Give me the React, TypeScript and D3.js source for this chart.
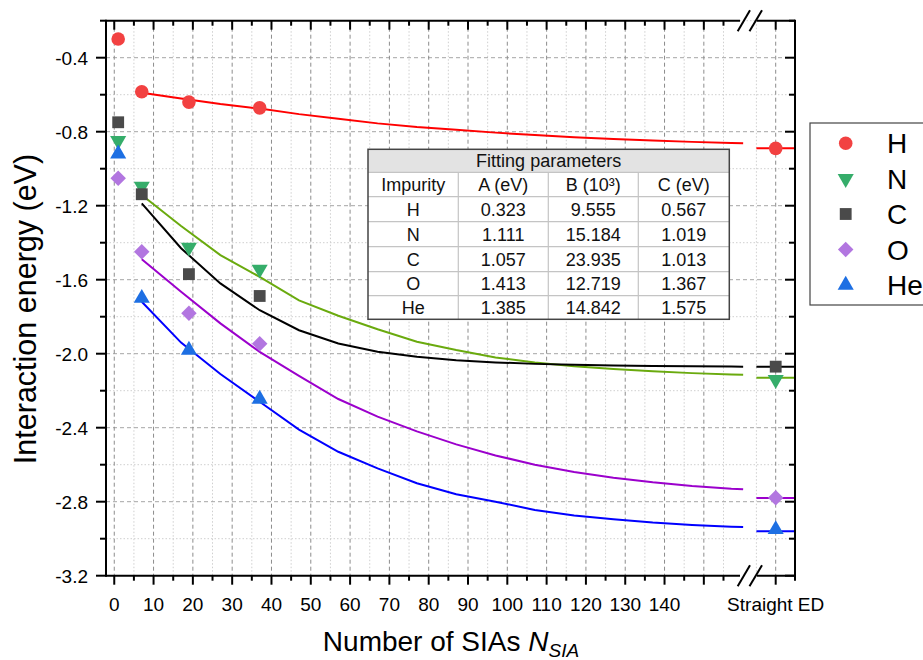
import * as d3 from "d3";

// cluster sizes with DFT points
const N_SIA = [1, 7, 19, 37];

const H_PTS = [-0.299, -0.584, -0.64, -0.671];
const N_PTS = [-0.849, -1.095, -1.425, -1.544];
const C_PTS = [-0.749, -1.138, -1.57, -1.688];
const O_PTS = [-1.052, -1.449, -1.782, -1.946];
const HE_PTS = [-0.92, -1.7, -1.98, -2.245];

// straight edge dislocation values
const ED_PTS = [-0.89, -2.14, -2.07, -2.778, -2.95];
const ED_FIT = [-0.89, -2.13, -2.07, -2.78, -2.96];

// fitted curves
const FIT_N = [7, 17, 27, 37, 47, 57, 67, 77, 87, 97, 107, 117, 127, 137, 147, 157, 160];
const H_FIT = [-0.589, -0.62, -0.65, -0.675, -0.705, -0.73, -0.755, -0.775, -0.79, -0.805, -0.818, -0.83, -0.84, -0.848, -0.855, -0.861, -0.863];
const N_FIT = [-1.142, -1.31, -1.467, -1.585, -1.712, -1.795, -1.868, -1.935, -1.98, -2.02, -2.048, -2.068, -2.083, -2.095, -2.105, -2.112, -2.114];
const C_FIT = [-1.187, -1.43, -1.62, -1.765, -1.873, -1.945, -1.99, -2.017, -2.035, -2.047, -2.055, -2.06, -2.064, -2.066, -2.068, -2.069, -2.07];
const O_FIT = [-1.49, -1.665, -1.836, -1.99, -2.12, -2.245, -2.34, -2.42, -2.49, -2.55, -2.6, -2.64, -2.67, -2.695, -2.715, -2.73, -2.733];
const HE_FIT = [-1.719, -1.94, -2.11, -2.26, -2.41, -2.53, -2.62, -2.7, -2.76, -2.8, -2.845, -2.875, -2.895, -2.913, -2.926, -2.935, -2.937];

const NAMES = ["H", "N", "C", "O", "He"];
const MARKER_COLORS = ["#f24141", "#35ad6a", "#4a4a4a", "#b276e0", "#1d6fe3"];
const LINE_COLORS = ["#ff0000", "#6aaa0e", "#000000", "#9b00cc", "#0000ff"];
const SHAPES = ["circle", "tridown", "square", "diamond", "triup"];

const X_TICKS = [0, 10, 20, 30, 40, 50, 60, 70, 80, 90, 100, 110, 120, 130, 140, 150];
const X_LABELS = ["0", "10", "20", "30", "40", "50", "60", "70", "80", "90", "100", "110", "120", "130", "140", ""];
const Y_TICKS = [-0.4, -0.8, -1.2, -1.6, -2.0, -2.4, -2.8, -3.2];

const TABLE_TITLE = "Fitting parameters";
const TABLE_HEAD = ["Impurity", "A (eV)", "B (10³)", "C (eV)"];
const TABLE_A = ["0.323", "1.111", "1.057", "1.413", "1.385"];
const TABLE_B = ["9.555", "15.184", "23.935", "12.719", "14.842"];
const TABLE_C = ["0.567", "1.019", "1.013", "1.367", "1.575"];

const FONT = "'Liberation Sans', Arial, sans-serif";

const W = 923;
const H = 660;
const L = 106, R = 795, T = 20.7, B = 575.7;
const BREAK_L = 740, BREAK_R = 757;

const x = d3.scaleLinear().domain([-2.1, 159.2]).range([L, BREAK_L]);
const xb = d3.scaleLinear().domain([-1, 1]).range([756.4, R]);
const y = d3.scaleLinear().domain([-3.2, -0.2]).range([B, T]);

function markerPath(shape: string) {
  if (shape === "circle") return d3.symbol(d3.symbolCircle, 145)()!;
  if (shape === "square") return d3.symbol(d3.symbolSquare, 140)()!;
  if (shape === "diamond") return d3.symbol(d3.symbolSquare, 120)()!;
  return d3.symbol(d3.symbolTriangle, 112)()!;
}
function markerRot(shape: string) {
  if (shape === "diamond") return 45;
  if (shape === "tridown") return 180;
  return 0;
}

function Marker({ cx, cy, i }: { cx: number; cy: number; i: number }) {
  return (
    <path
      d={markerPath(SHAPES[i])}
      transform={`translate(${cx},${cy}) rotate(${markerRot(SHAPES[i])})`}
      fill={MARKER_COLORS[i]}
    />
  );
}

export default function App() {
  const pts = [H_PTS, N_PTS, C_PTS, O_PTS, HE_PTS];
  const fits = [H_FIT, N_FIT, C_FIT, O_FIT, HE_FIT];
  const line = d3.line<[number, number]>().x((d) => x(d[0])).y((d) => y(d[1]));

  const minorX = d3.range(5, 160, 10);
  const minorY = d3.range(-3.0, -0.19, 0.4);

  // table geometry
  const colX = [368, 458.3, 548.3, 638.3, 729.3];
  const rowY = [149.3, 172.3, 196.7, 221.7, 246.7, 271.7, 295.7, 319.3];

  const legY = [143.3, 178.7, 214, 249.5, 285];

  return (
    <svg width={W} height={H} style={{ position: "absolute", left: 0, top: 0, background: "#fff" }} fontFamily={FONT}>
      <rect width={W} height={H} fill="#fff" />
      {/* grid */}
      <g>
        {minorY.map((v) => (
          <line key={"my" + v} x1={L} x2={R} y1={y(v)} y2={y(v)} stroke="#cfcfcf" strokeDasharray="1.5,2" />
        ))}
        {minorX.map((v) => (
          <line key={"mx" + v} x1={x(v)} x2={x(v)} y1={T} y2={B} stroke="#cfcfcf" strokeDasharray="1.5,2" />
        ))}
        <line x1={xb(-1)} x2={xb(-1)} y1={T} y2={B} stroke="#cfcfcf" strokeDasharray="1.5,2" />
        {Y_TICKS.slice(0, -1).map((v) => (
          <line key={"gy" + v} x1={L} x2={R} y1={y(v)} y2={y(v)} stroke="#a6a6a6" strokeDasharray="4,3" />
        ))}
        {X_TICKS.map((v) => (
          <line key={"gx" + v} x1={x(v)} x2={x(v)} y1={T} y2={B} stroke="#8c8c8c" strokeDasharray="4,3" />
        ))}
        <line x1={xb(0)} x2={xb(0)} y1={T} y2={B} stroke="#8c8c8c" strokeDasharray="4,3" />
      </g>

      {/* fitted curves */}
      {fits.map((f, i) => (
        <g key={"fit" + i}>
          <path d={line(FIT_N.map((n, k) => [n, f[k]] as [number, number]))!} fill="none" stroke={LINE_COLORS[i]} strokeWidth={2} />
          <line x1={xb(-1)} x2={R} y1={y(ED_FIT[i])} y2={y(ED_FIT[i])} stroke={LINE_COLORS[i]} strokeWidth={2} />
        </g>
      ))}

      {/* points */}
      {pts.map((p, i) => (
        <g key={"pts" + i}>
          {p.map((v, k) => (
            <Marker key={k} cx={x(N_SIA[k])} cy={y(v)} i={i} />
          ))}
          <Marker cx={xb(0)} cy={y(ED_PTS[i])} i={i} />
        </g>
      ))}

      {/* table */}
      <g fontSize={18} textAnchor="middle" fill="#111">
        <rect x={colX[0]} y={rowY[0]} width={colX[4] - colX[0]} height={rowY[7] - rowY[0]} fill="#fff" />
        <rect x={colX[0]} y={rowY[0]} width={colX[4] - colX[0]} height={rowY[1] - rowY[0]} fill="#e3e3e3" />
        {rowY.slice(1, -1).map((ry) => (
          <line key={"tr" + ry} x1={colX[0]} x2={colX[4]} y1={ry} y2={ry} stroke="#c4c4c4" strokeWidth={1.2} />
        ))}
        {colX.slice(1, -1).map((cx) => (
          <line key={"tc" + cx} x1={cx} x2={cx} y1={rowY[1]} y2={rowY[7]} stroke="#c4c4c4" strokeWidth={1.2} />
        ))}
        <rect x={colX[0]} y={rowY[0]} width={colX[4] - colX[0]} height={rowY[7] - rowY[0]} fill="none" stroke="#444" strokeWidth={1.5} />
        <text x={(colX[0] + colX[4]) / 2} y={(rowY[0] + rowY[1]) / 2 + 6.5}>{TABLE_TITLE}</text>
        {TABLE_HEAD.map((t, c) => (
          <text key={"th" + c} x={(colX[c] + colX[c + 1]) / 2} y={(rowY[1] + rowY[2]) / 2 + 6.5}>{t}</text>
        ))}
        {NAMES.map((nm, r) => {
          const cells = [nm, TABLE_A[r], TABLE_B[r], TABLE_C[r]];
          return cells.map((t, c) => (
            <text key={"td" + r + c} x={(colX[c] + colX[c + 1]) / 2} y={(rowY[r + 2] + rowY[r + 3]) / 2 + 6.5}>{t}</text>
          ));
        })}
      </g>

      {/* axes frame */}
      <g stroke="#000" strokeWidth={2} fill="none">
        <line x1={L} x2={L} y1={T - 1} y2={B + 1} />
        <line x1={R} x2={R} y1={T - 1} y2={B + 1} />
        <line x1={L} x2={BREAK_L} y1={T} y2={T} />
        <line x1={BREAK_R} x2={R} y1={T} y2={T} />
        <line x1={L} x2={BREAK_L} y1={B} y2={B} />
        <line x1={BREAK_R} x2={R} y1={B} y2={B} />
        {/* break marks */}
        {[T, B].map((yy) => (
          <g key={"br" + yy}>
            <line x1={737.7} y1={yy + 10.5} x2={750} y2={yy - 10.5} />
            <line x1={749.5} y1={yy + 10.5} x2={762} y2={yy - 10.5} />
          </g>
        ))}
      </g>

      {/* ticks */}
      <g stroke="#000" strokeWidth={2}>
        {X_TICKS.map((v) => (
          <g key={"xt" + v}>
            <line x1={x(v)} x2={x(v)} y1={B} y2={B + 9} />
            <line x1={x(v)} x2={x(v)} y1={T} y2={T + 9} />
          </g>
        ))}
        {minorX.map((v) => (
          <g key={"xm" + v}>
            <line x1={x(v)} x2={x(v)} y1={B} y2={B + 5} />
            <line x1={x(v)} x2={x(v)} y1={T} y2={T + 5} />
          </g>
        ))}
        <line x1={xb(0)} x2={xb(0)} y1={B} y2={B + 9} />
        <line x1={xb(0)} x2={xb(0)} y1={T} y2={T + 9} />
        <line x1={R} x2={R} y1={B} y2={B + 5} />
        {Y_TICKS.map((v) => (
          <g key={"yt" + v}>
            <line x1={L - 10} x2={L} y1={y(v)} y2={y(v)} />
            <line x1={R - 10} x2={R} y1={y(v)} y2={y(v)} />
          </g>
        ))}
        {minorY.map((v) => (
          <g key={"ym" + v}>
            <line x1={L - 6} x2={L} y1={y(v)} y2={y(v)} />
            <line x1={R - 6} x2={R} y1={y(v)} y2={y(v)} />
          </g>
        ))}
      </g>

      {/* tick labels */}
      <g fontSize={19} fill="#000">
        {X_TICKS.map((v, k) => (
          <text key={"xl" + v} x={x(v)} y={611} textAnchor="middle">{X_LABELS[k]}</text>
        ))}
        <text x={xb(0)} y={611} textAnchor="middle">Straight ED</text>
        {Y_TICKS.map((v) => (
          <text key={"yl" + v} x={88} y={y(v) + 7} textAnchor="end">{d3.format(".1f")(v).replace("−", "-")}</text>
        ))}
      </g>

      {/* axis titles */}
      <text x={451} y={651} textAnchor="middle" fontSize={28} fill="#000">
        Number of SIAs <tspan fontStyle="italic">N</tspan>
        <tspan fontStyle="italic" fontSize={19} dy={6}>SIA</tspan>
      </text>
      <text transform="translate(36,309) rotate(-90)" textAnchor="middle" fontSize={30.5} fill="#000">
        Interaction energy (eV)
      </text>

      {/* legend */}
      <g>
        <rect x={810} y={123} width={140} height={182} fill="#fff" stroke="#444" strokeWidth={1.2} />
        {NAMES.map((nm, i) => (
          <g key={"lg" + i}>
            <Marker cx={845.7} cy={legY[i]} i={i} />
            <text x={887} y={legY[i] + 10} fontSize={28} fill="#000">{nm}</text>
          </g>
        ))}
      </g>
    </svg>
  );
}
